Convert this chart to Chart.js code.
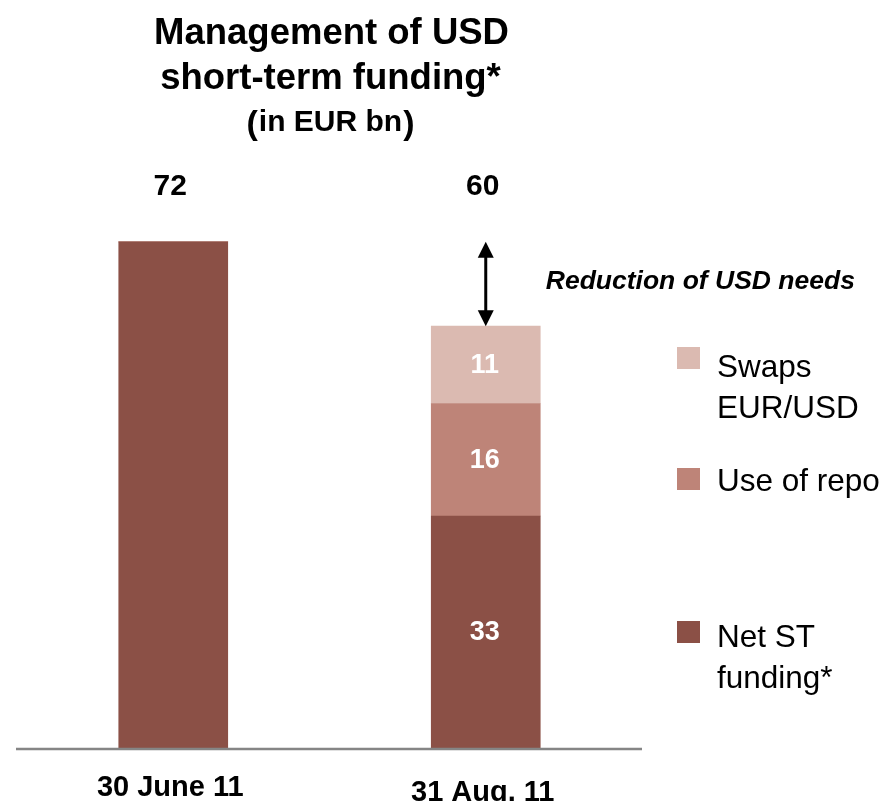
<!DOCTYPE html>
<html>
<head>
<meta charset="utf-8">
<script src="https://cdn.jsdelivr.net/npm/chart.js@4"></script>
<style>
    body { margin: 0; background: #ffffff; }
    #wrap { width: 883px; height: 801px; position: relative; }
</style>
</head>
<body>
<div id="wrap"><canvas id="usd-chart"></canvas></div>
<script>
// data
const categories = ["30 June 11", "31 Aug. 11"];
const netStFunding = [72, 33];
const useOfRepo = [0, 16];
const swapsEurUsd = [0, 11];
const seriesNames = ["Net ST funding*", "Use of repo", "Swaps EUR/USD"];

const titleLines = ["Management of USD", "short-term funding*"];
const unitLabel = "in EUR bn";
const arrowLabel = "Reduction of USD needs";

const colors = ["#8b5046", "#be8478", "#dbbab1"];
const FONT = "'Liberation Sans', Arial, sans-serif";

document.addEventListener("DOMContentLoaded", function () {
    const ctx = document.getElementById("usd-chart").getContext("2d");

    const totals = categories.map((c, i) => netStFunding[i] + useOfRepo[i] + swapsEurUsd[i]);

    // everything that is not a bar gets drawn here
    const annotations = {
        id: "annotations",
        afterDatasetsDraw(chart) {
            const c = chart.ctx;
            const area = chart.chartArea;
            const yScale = chart.scales.y;
            const xScale = chart.scales.x;
            const midX = (area.left + area.right) / 2;

            c.save();

            // base line
            c.strokeStyle = "#858585";
            c.lineWidth = 2.5;
            c.beginPath();
            c.moveTo(area.left - 1, area.bottom + 1);
            c.lineTo(area.right, area.bottom + 1);
            c.stroke();

            // title
            c.fillStyle = "#000000";
            c.textAlign = "center";
            c.textBaseline = "alphabetic";
            c.font = "bold 36.5px " + FONT;
            c.fillText(titleLines[0], midX + 2, 44);
            c.fillText(titleLines[1], midX + 1, 89);

            // "(in EUR bn)" with bigger brackets
            c.font = "bold 30px " + FONT;
            const innerW = c.measureText(unitLabel).width;
            c.font = "bold 34px " + FONT;
            const bracketW = c.measureText("(").width;
            let x0 = midX + 1 - (innerW + 2 * bracketW + 2) / 2;
            c.textAlign = "left";
            c.fillText("(", x0, 134);
            c.fillText(")", x0 + bracketW + innerW + 2, 134);
            c.font = "bold 30px " + FONT;
            c.fillText(unitLabel, x0 + bracketW + 1, 131);

            // totals above the bars
            c.textAlign = "center";
            c.font = "bold 30px " + FONT;
            const metaTop = chart.getDatasetMeta(0);
            categories.forEach((cat, i) => {
                const bx = metaTop.data[i].x;
                c.fillText(String(totals[i]), bx - 3, 195);
            });

            // category labels under the axis
            c.font = "bold 29px " + FONT;
            categories.forEach((cat, i) => {
                const bx = xScale.getPixelForValue(i);
                c.fillText(cat, bx - 3, i === 0 ? 796 : 801);
            });

            // values inside stacked segments
            c.fillStyle = "#ffffff";
            c.font = "bold 27px " + FONT;
            c.textBaseline = "middle";
            categories.forEach((cat, i) => {
                const parts = chart.data.datasets.filter(ds => ds.data[i] > 0).length;
                if (parts < 2) return;
                chart.data.datasets.forEach((ds, d) => {
                    const v = ds.data[i];
                    if (!v) return;
                    const bar = chart.getDatasetMeta(d).data[i];
                    c.fillText(String(v), bar.x - 1, (bar.y + bar.base) / 2 + 1);
                });
            });

            // double arrow between the two totals
            const ax = metaTop.data[1].x;
            const yA = yScale.getPixelForValue(totals[0]);
            const yB = yScale.getPixelForValue(totals[1]);
            const head = 16;
            c.strokeStyle = "#000000";
            c.fillStyle = "#000000";
            c.lineWidth = 3;
            c.beginPath();
            c.moveTo(ax, yA + head - 2);
            c.lineTo(ax, yB - head + 2);
            c.stroke();
            c.beginPath();
            c.moveTo(ax, yA);
            c.lineTo(ax - 8, yA + head);
            c.lineTo(ax + 8, yA + head);
            c.closePath();
            c.fill();
            c.beginPath();
            c.moveTo(ax, yB);
            c.lineTo(ax - 8, yB - head);
            c.lineTo(ax + 8, yB - head);
            c.closePath();
            c.fill();

            c.textAlign = "left";
            c.textBaseline = "alphabetic";
            c.font = "italic bold 26.5px " + FONT;
            c.fillText(arrowLabel, ax + 60, 289);

            // legend on the right
            const legendRows = [
                { color: colors[2], top: 347, lines: ["Swaps", "EUR/USD"], base: 377 },
                { color: colors[1], top: 468, lines: ["Use of repo"], base: 491 },
                { color: colors[0], top: 621, lines: ["Net ST", "funding*"], base: 647 }
            ];
            c.font = "31.5px " + FONT;
            legendRows.forEach(row => {
                c.fillStyle = row.color;
                c.fillRect(677, row.top, 23, 22);
                c.fillStyle = "#000000";
                row.lines.forEach((ln, k) => c.fillText(ln, 717, row.base + k * 41));
            });

            c.restore();
        }
    };

    new Chart(ctx, {
        type: "bar",
        data: {
            labels: categories,
            datasets: [
                { label: seriesNames[0], data: netStFunding, backgroundColor: colors[0] },
                { label: seriesNames[1], data: useOfRepo, backgroundColor: colors[1] },
                { label: seriesNames[2], data: swapsEurUsd, backgroundColor: colors[2] }
            ]
        },
        options: {
            responsive: true,
            maintainAspectRatio: false,
            animation: false,
            layout: { padding: { left: 17, right: 241, top: 45, bottom: 53 } },
            datasets: { bar: { barThickness: 109, borderWidth: 0 } },
            scales: {
                x: { stacked: true, display: false },
                y: { stacked: true, display: false, min: 0, max: 100 }
            },
            plugins: {
                legend: { display: false },
                tooltip: { enabled: false },
                title: { display: false }
            }
        },
        plugins: [annotations]
    });
});
</script>
</body>
</html>
